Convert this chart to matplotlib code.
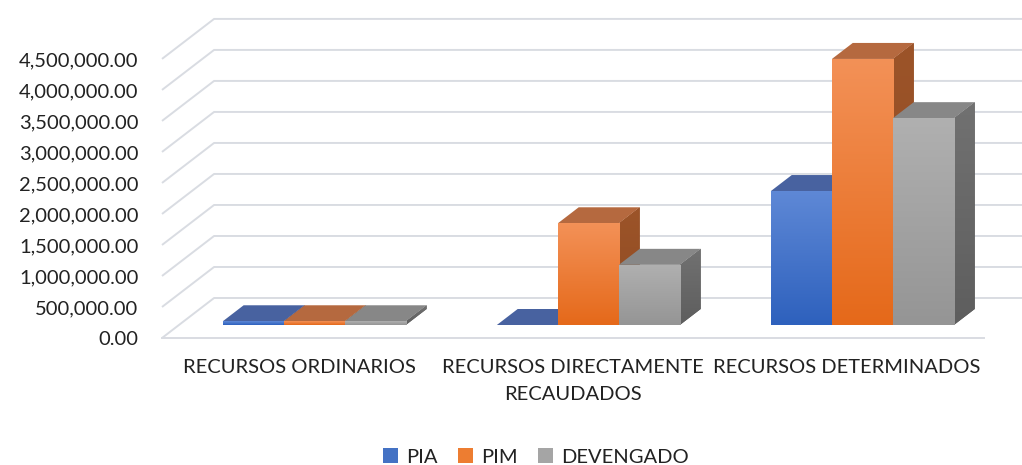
import numpy as np
import matplotlib
matplotlib.use("Agg")
import matplotlib.pyplot as plt
from matplotlib.patches import Polygon, Patch
from matplotlib.colors import LinearSegmentedColormap

plt.rcParams['font.family'] = ['Lato', 'DejaVu Sans']

# data
categorias = ['RECURSOS ORDINARIOS', 'RECURSOS DIRECTAMENTE\nRECAUDADOS', 'RECURSOS DETERMINADOS']
series = ['PIA', 'PIM', 'DEVENGADO']
pia = [60000, 0, 2160000]
pim = [60000, 1640000, 4290000]
devengado = [60000, 970000, 3335000]
yticks = np.arange(0, 4500001, 500000)

# colours: front top, front bottom, top face, side top, side bottom
colores = {
    'PIA': ('#5E88D6', '#2E61BD', '#4862A0', '#3F5A94', '#344E85'),
    'PIM': ('#F39157', '#E5691A', '#B5693F', '#9C5429', '#904B22'),
    'DEVENGADO': ('#B0B0B0', '#959595', '#878787', '#717171', '#5E5E5E'),
}
leyenda = {'PIA': '#4472C4', 'PIM': '#ED7D31', 'DEVENGADO': '#A5A5A5'}

# oblique "3d" geometry
DX, DY = 0.19, 645000      # floor depth (category units, value units)
D0, D1 = 0.325, 0.725      # bar front/back depth
W = 0.2226                 # bar width
grid_col = '#D9DCE2'

fig = plt.figure(figsize=(10.22, 4.65), dpi=100)
ax = fig.add_axes([162/1022, 127/465, 860/1022, 338/465])
for s in ax.spines.values():
    s.set_visible(False)

# back wall gridlines + floor
for v in yticks:
    ax.plot([-0.5, -0.5 + DX, 2.5 + DX], [v, v + DY, v + DY], color=grid_col, lw=1.4,
            clip_on=False, zorder=1, solid_capstyle='butt')
ax.plot([-0.5, 2.5], [0, 0], color=grid_col, lw=1.4, clip_on=False, zorder=1)

x = np.arange(len(categorias))
z = 10
ddx, ddy = (D1 - D0) * DX, (D1 - D0) * DY
for i in range(len(categorias)):
    for j, (nombre, vals) in enumerate(zip(series, [pia, pim, devengado])):
        c = colores[nombre]
        v = vals[i]
        xl = x[i] + (j - 1.5) * W + D0 * DX - 0.006
        y0 = D0 * DY
        side = Polygon([(xl + W, y0), (xl + W + ddx, y0 + ddy), (xl + W + ddx, y0 + v + ddy), (xl + W, y0 + v)],
                       closed=True, facecolor=c[4], edgecolor='none', zorder=z)
        ax.add_patch(side)
        if v > 0:
            im = ax.imshow(np.linspace(0, 1, 50).reshape(-1, 1), extent=[xl + W, xl + W + ddx, y0, y0 + v + ddy],
                           aspect='auto', origin='upper',
                           cmap=LinearSegmentedColormap.from_list('s', [c[3], c[4]]), zorder=z + 0.5)
            im.set_clip_path(side)
        top = Polygon([(xl, y0 + v), (xl + W, y0 + v), (xl + W + ddx, y0 + v + ddy), (xl + ddx, y0 + v + ddy)],
                      closed=True, facecolor=c[2], edgecolor='none', zorder=z + 1)
        ax.add_patch(top)
        bar = ax.bar(xl, v, width=W, bottom=y0, align='edge', color=c[1], edgecolor='none', zorder=z + 2)[0]
        if v > 0:
            im = ax.imshow(np.linspace(0, 1, 100).reshape(-1, 1), extent=[xl, xl + W, y0, y0 + v],
                           aspect='auto', origin='upper',
                           cmap=LinearSegmentedColormap.from_list('f', [c[0], c[1]]), zorder=z + 2.5)
            im.set_clip_path(bar)
        z += 3

ax.set_xlim(-0.5, 2.638)
ax.set_ylim(0, 5450000)

ax.set_yticks(yticks)
ax.set_yticklabels([f'{v:,.2f}' for v in yticks])
ax.set_xticks(x)
ax.set_xticklabels(categorias)
ax.tick_params(axis='y', length=0, pad=17, labelsize=14.5, labelcolor='#222222')
ax.tick_params(axis='x', length=0, pad=15, labelsize=14.5, labelcolor='#222222')
for t in ax.get_xticklabels():
    t.set_linespacing(1.75)

handles = [Patch(facecolor=leyenda[s], edgecolor='none') for s in series]
fig.legend(handles, series, loc='center', bbox_to_anchor=(536/1022, 1 - 457/465), ncol=3, frameon=False,
           fontsize=14.5, handlelength=0.75, handleheight=0.75, handletextpad=0.4, columnspacing=1.0,
           labelcolor='#222222')

fig.savefig('out.png', dpi=100)
